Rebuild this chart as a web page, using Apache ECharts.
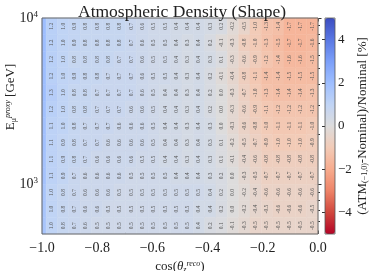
<!DOCTYPE html>
<html><head><meta charset="utf-8">
<script src="https://cdn.jsdelivr.net/npm/echarts@6/dist/echarts.min.js"></script>
<style>html,body{margin:0;padding:0;background:#fff}#c{width:379px;height:271px}</style>
</head><body><div id="c"></div>
<script>
// bin edges of cos(theta_z^reco): a narrow first bin, then 24 regular bins
const cosEdges = [-1.0,-0.985,-0.944,-0.9029,-0.8619,-0.8208,-0.7798,-0.7388,-0.6977,-0.6567,-0.6156,-0.5746,-0.5335,-0.4925,-0.4515,-0.4104,-0.3694,-0.3283,-0.2873,-0.2463,-0.2052,-0.1642,-0.1231,-0.0821,-0.041,0.0];
// log10 of E_mu^proxy bin edges, top to bottom
const logEEdges = [4.0,3.9,3.8,3.7,3.6,3.5,3.4,3.3,3.2,3.1,3.0,2.9,2.8,2.7];
// narrow first cos bin (unlabelled in the figure), top row first
const edgeStrip = [2.0,2.0,2.0,2.0,2.0,1.9,1.9,1.9,1.8,1.8,1.7,1.7,1.7];
// relative change [%] per energy row (top row first), regular bins
const row_39_40 = [1.2,1.0,0.9,0.8,0.8,0.8,0.8,0.7,0.6,0.5,0.5,0.4,0.4,0.4,0.3,0.2,-0.2,-0.5,-1.0,-1.3,-1.4,-1.7,-1.7,-1.7];
const row_38_39 = [1.2,1.0,0.9,0.8,0.8,0.8,0.8,0.7,0.6,0.5,0.5,0.4,0.3,0.4,0.2,-0.1,-0.3,-0.8,-1.0,-1.3,-1.5,-1.7,-1.7,-1.6];
const row_37_38 = [1.2,1.0,0.8,0.8,0.8,0.8,0.7,0.7,0.6,0.5,0.5,0.4,0.3,0.4,0.3,0.1,-0.3,-0.6,-0.9,-1.2,-1.4,-1.6,-1.6,-1.5];
const row_36_37 = [1.2,1.0,0.9,0.8,0.8,0.7,0.7,0.7,0.6,0.5,0.5,0.4,0.3,0.4,0.2,-0.1,-0.4,-0.8,-1.1,-1.4,-1.4,-1.5,-1.5,-1.5];
const row_35_36 = [1.3,1.0,0.8,0.8,0.7,0.7,0.7,0.7,0.6,0.5,0.4,0.4,0.3,0.4,0.2,0.0,-0.3,-0.7,-1.0,-1.3,-1.4,-1.4,-1.4,-1.3];
const row_34_35 = [1.2,1.0,0.8,0.8,0.7,0.7,0.7,0.6,0.6,0.5,0.4,0.4,0.3,0.4,0.2,0.0,-0.3,-0.6,-0.9,-1.1,-1.2,-1.2,-1.2,-1.2];
const row_33_34 = [1.1,1.0,0.8,0.7,0.7,0.7,0.6,0.6,0.6,0.5,0.4,0.4,0.3,0.4,0.3,0.0,-0.3,-0.6,-0.8,-1.0,-1.1,-1.1,-1.1,-1.0];
const row_32_33 = [1.1,0.9,0.8,0.7,0.7,0.6,0.6,0.6,0.6,0.5,0.4,0.4,0.3,0.4,0.3,0.1,-0.2,-0.5,-0.7,-0.9,-1.0,-1.0,-1.0,-0.9];
const row_31_32 = [1.1,0.9,0.8,0.7,0.6,0.6,0.6,0.6,0.5,0.5,0.4,0.4,0.3,0.4,0.3,0.1,-0.1,-0.4,-0.6,-0.8,-0.8,-0.8,-0.8,-0.8];
const row_30_31 = [1.1,0.9,0.7,0.6,0.6,0.6,0.6,0.5,0.5,0.5,0.5,0.4,0.4,0.4,0.3,0.2,0.0,-0.3,-0.5,-0.7,-0.7,-0.7,-0.7,-0.7];
const row_29_30 = [1.0,0.8,0.7,0.6,0.6,0.6,0.5,0.5,0.5,0.5,0.5,0.5,0.5,0.5,0.4,0.2,0.0,-0.2,-0.4,-0.6,-0.6,-0.6,-0.6,-0.6];
const row_28_29 = [1.0,0.8,0.7,0.6,0.6,0.5,0.5,0.5,0.5,0.5,0.5,0.5,0.5,0.4,0.4,0.2,0.0,-0.2,-0.4,-0.5,-0.6,-0.6,-0.6,-0.5];
const row_27_28 = [1.0,0.8,0.7,0.6,0.5,0.5,0.5,0.5,0.5,0.5,0.5,0.5,0.5,0.4,0.2,0.1,-0.1,-0.3,-0.5,-0.5,-0.5,-0.5,-0.5,-0.5];
const rows = [row_39_40,row_38_39,row_37_38,row_36_37,row_35_36,row_34_35,row_33_34,row_32_33,row_31_32,row_30_31,row_29_30,row_28_29,row_27_28];
const yTicks = [3,4];
const yMinorTicks = [2.7782,2.8451,2.9031,2.9542,3.3010,3.4771,3.6021,3.6990,3.7782,3.8451,3.9031,3.9542];
const cbTicks = [-4,-2,0,2,4];
const coolwarmR = ['#b40426','#d0473d','#ee8468','#f7ac8e','#f2cbb7','#dddcdc','#c0d4f5','#9ebeff','#7b9ff9','#5977e3','#3b4cc0'];

const data = [];
rows.forEach((r, i) => {
  data.push([cosEdges[0], cosEdges[1], logEEdges[i+1], logEEdges[i], edgeStrip[i], 0]);
  r.forEach((v, j) => {
    data.push([cosEdges[j+1], cosEdges[j+2], logEEdges[i+1], logEEdges[i], v, 1]);
  });
});

const SERIF = '"Liberation Serif", "DejaVu Serif", serif';
const TXT = '#222';
const minus = v => (v < 0 ? '\u2212' + Math.abs(v) : '' + v);
const chart = echarts.init(document.getElementById('c'), null, {renderer: 'canvas'});
chart.setOption({
  animation: false,
  backgroundColor: '#fff',
  title: {text: 'Atmospheric Density (Shape)', left: 177, top: -2, textAlign: 'center',
    textStyle: {fontFamily: SERIF, fontSize: 17.5, fontWeight: 'normal', color: TXT}},
  grid: [
    {left: 42, right: 61, top: 18, bottom: 37, show: true, borderColor: '#666', borderWidth: 1, backgroundColor: 'transparent', z: 5, outerBoundsMode: 'none', containLabel: false},
    {left: 325, width: 10, top: 18, height: 216, show: true, borderColor: '#555', borderWidth: 0.8, backgroundColor: 'transparent', z: 10, outerBoundsMode: 'none', containLabel: false}
  ],
  xAxis: [
    {type: 'value', gridIndex: 0, min: -1, max: 0, interval: 0.2, position: 'bottom',
      axisLine: {show: false}, splitLine: {show: false},
      axisTick: {inside: true, length: 3.5, lineStyle: {color: '#333'}},
      minorTick: {show: true, splitNumber: 4, length: 2, lineStyle: {color: '#333'}},
      axisLabel: {margin: 7, fontFamily: SERIF, fontSize: 14, color: TXT, formatter: v => (v < 0 ? '\u2212' + Math.abs(v).toFixed(1) : v.toFixed(1))},
      name: '{n|cos(}{t|\u03b8}{s|z}{p|reco}{n|)}', nameLocation: 'middle', nameGap: 20,
      nameTextStyle: {rich: {
        n: {fontFamily: SERIF, fontSize: 13, color: TXT},
        t: {fontFamily: SERIF, fontSize: 13, fontStyle: 'italic', color: TXT},
        s: {fontFamily: SERIF, fontSize: 8, fontStyle: 'italic', color: TXT, verticalAlign: 'bottom', padding: [6, 0, 0, 0]},
        p: {fontFamily: SERIF, fontSize: 8, fontStyle: 'italic', color: TXT, verticalAlign: 'top', padding: [0, 0, 6, 0]}
      }}},
    {type: 'value', gridIndex: 0, min: -1, max: 0, interval: 0.2, position: 'top',
      axisLine: {show: false}, splitLine: {show: false}, axisLabel: {show: false},
      axisTick: {inside: true, length: 3.5, lineStyle: {color: '#333'}},
      minorTick: {show: true, splitNumber: 4, length: 2, lineStyle: {color: '#333'}}},
    {type: 'value', gridIndex: 1, min: 0, max: 1, show: false}
  ],
  yAxis: [
    {type: 'value', gridIndex: 0, min: 2.7, max: 4.0, position: 'left',
      axisLine: {show: false}, splitLine: {show: false},
      axisTick: {inside: true, length: 3.5, customValues: yTicks, lineStyle: {color: '#333'}},
      axisLabel: {customValues: yTicks, margin: 4, formatter: v => '{b|10}{e|' + Math.round(v) + '}',
        rich: {b: {fontFamily: SERIF, fontSize: 14, color: TXT},
               e: {fontFamily: SERIF, fontSize: 9, color: TXT, verticalAlign: 'top', padding: [0, 0, 7, 0]}}}},
    {type: 'value', gridIndex: 0, min: 2.7, max: 4.0, position: 'left',
      axisLine: {show: false}, splitLine: {show: false}, axisLabel: {show: false},
      axisTick: {inside: true, length: 2, customValues: yMinorTicks, lineStyle: {color: '#333'}}},
    {type: 'value', gridIndex: 0, min: 2.7, max: 4.0, position: 'right',
      axisLine: {show: false}, splitLine: {show: false}, axisLabel: {show: false},
      axisTick: {inside: true, length: 3.5, customValues: yTicks, lineStyle: {color: '#333'}}},
    {type: 'value', gridIndex: 0, min: 2.7, max: 4.0, position: 'right',
      axisLine: {show: false}, splitLine: {show: false}, axisLabel: {show: false},
      axisTick: {inside: true, length: 2, customValues: yMinorTicks, lineStyle: {color: '#333'}}},
    {type: 'value', gridIndex: 1, min: -5, max: 5, position: 'right',
      axisLine: {show: false}, splitLine: {show: false},
      axisTick: {inside: true, length: 3, customValues: cbTicks, lineStyle: {color: '#333'}},
      axisLabel: {customValues: cbTicks, margin: 3, fontFamily: SERIF, fontSize: 13, color: TXT, formatter: minus},
      name: '{n|(ATM}{s|(\u22121,0)}{n|-Nominal)/Nominal [%]}', nameLocation: 'middle', nameGap: 20, nameRotate: 90,
      nameTextStyle: {rich: {
        n: {fontFamily: SERIF, fontSize: 13, color: TXT},
        s: {fontFamily: SERIF, fontSize: 8, color: TXT, verticalAlign: 'bottom', padding: [5, 0, 0, 0]}
      }}}
  ],
  graphic: [{
    type: 'text', x: 11, y: 97, rotation: Math.PI / 2,
    style: {text: '{n|E}{s|\u03bc}{p|proxy}{n| [GeV]}', align: 'center', verticalAlign: 'middle',
      rich: {
        n: {fontFamily: SERIF, fontSize: 13, fill: TXT},
        s: {fontFamily: SERIF, fontSize: 8, fill: TXT, verticalAlign: 'bottom', padding: [6, 0, 0, 0]},
        p: {fontFamily: SERIF, fontSize: 8, fontStyle: 'italic', fill: TXT, verticalAlign: 'top', padding: [0, 0, 6, 0]}
      }}
  }],
  visualMap: {type: 'continuous', min: -5, max: 5, dimension: 4, seriesIndex: 0,
    left: 325, top: 18, itemWidth: 10, itemHeight: 216, padding: 0, calculable: false,
    text: null, showLabel: false, inRange: {color: coolwarmR}},
  series: [{
    type: 'custom', xAxisIndex: 0, yAxisIndex: 0, encode: {x: [0, 1], y: [2, 3]},
    data: data,
    renderItem: (params, api) => {
      const p0 = api.coord([api.value(0), api.value(3)]);
      const p1 = api.coord([api.value(1), api.value(2)]);
      const v = api.value(4);
      const col = api.visual('color');
      const children = [
        {type: 'rect', shape: {x: p0[0], y: p0[1], width: p1[0] - p0[0], height: p1[1] - p0[1]},
          style: {fill: col, stroke: col, lineWidth: 0.5}}];
      if (api.value(5)) {
        children.push({type: 'text', x: (p0[0] + p1[0]) / 2, y: (p0[1] + p1[1]) / 2, rotation: Math.PI / 2,
          style: {text: v.toFixed(1), fontSize: 5.5, fontFamily: SERIF, fill: '#555', align: 'center', verticalAlign: 'middle'}});
      }
      return {type: 'group', children: children};
    }
  }]
});
</script></body></html>
